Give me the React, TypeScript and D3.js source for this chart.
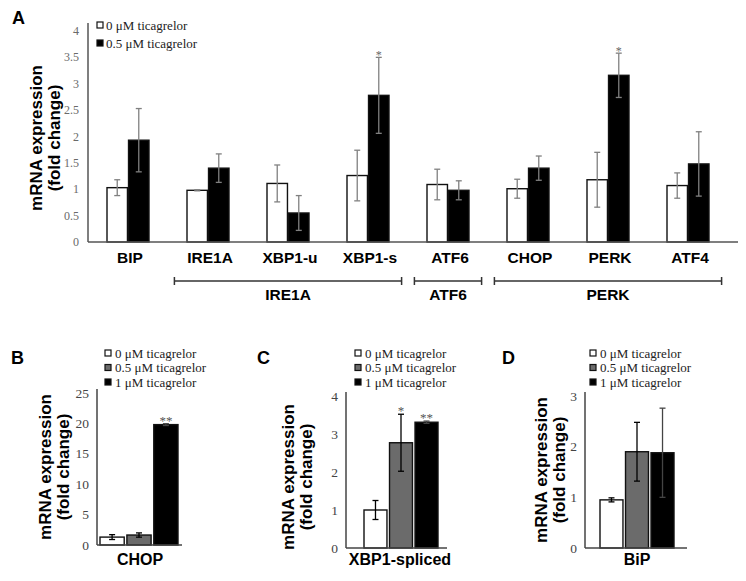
import React from 'react';
import * as d3 from 'd3';

// ---------- Panel A data ----------
const genesA = ['BIP', 'IRE1A', 'XBP1-u', 'XBP1-s', 'ATF6', 'CHOP', 'PERK', 'ATF4'];
const seriesA = ['0 μM ticagrelor', '0.5 μM ticagrelor'];
const ctrlA = [1.03, 0.98, 1.11, 1.26, 1.09, 1.01, 1.18, 1.07];
const ctrlErrA = [0.15, 0.01, 0.35, 0.48, 0.29, 0.18, 0.52, 0.24];
const ticaA = [1.93, 1.40, 0.55, 2.78, 0.98, 1.40, 3.16, 1.48];
const ticaErrA = [0.6, 0.27, 0.33, 0.72, 0.18, 0.23, 0.42, 0.61];
const sigA = ['', '', '', '*', '', '', '*', ''];
const yTicksA = [0, 0.5, 1, 1.5, 2, 2.5, 3, 3.5, 4];
const groupLabelsA = ['IRE1A', 'ATF6', 'PERK'];
const groupFromA = ['IRE1A', 'ATF6', 'CHOP'];
const groupToA = ['XBP1-s', 'ATF6', 'ATF4'];

// ---------- Panels B-D data ----------
const doses = ['0 μM ticagrelor', '0.5 μM ticagrelor', '1 μM ticagrelor'];
const chopVals = [1.3, 1.64, 19.8];
const chopErr = [0.4, 0.35, 0.15];
const chopSig = ['', '', '**'];
const chopTicks = [0, 5, 10, 15, 20, 25];
const xbpVals = [1.0, 2.77, 3.31];
const xbpErr = [0.25, 0.75, 0.03];
const xbpSig = ['', '*', '**'];
const xbpTicks = [0, 1, 2, 3, 4];
const bipVals = [0.95, 1.9, 1.88];
const bipErr = [0.04, 0.58, 0.88];
const bipSig = ['', '', ''];
const bipTicks = [0, 1, 2, 3];

const SERIF = "'Liberation Serif', 'Times New Roman', serif";
const SANS = "'Liberation Sans', Arial, Helvetica, sans-serif";
const doseFill = ['#ffffff', '#6b6b6b', '#000000'];

function YTitle({ x, y }: { x: number; y: number }) {
  return (
    <g transform={`translate(${x},${y}) rotate(-90)`}>
      <text x={0} y={0} textAnchor="middle" dominantBaseline="central" fontFamily={SANS} fontWeight="bold" fontSize={17} fill="#000">
        mRNA expression
      </text>
      <text x={0} y={18} textAnchor="middle" dominantBaseline="central" fontFamily={SANS} fontWeight="bold" fontSize={17} fill="#000">
        (fold change)
      </text>
    </g>
  );
}

function PanelA() {
  const y = d3.scaleLinear().domain([0, 4]).range([242, 31]);
  const x = d3.scaleBand<string>().domain(genesA).range([88, 728]);
  const bw = x.bandwidth();
  const sub = d3.scaleBand<string>().domain(seriesA).range([bw / 2 - 21, bw / 2 + 21]).paddingInner(0.05);
  const vals = [ctrlA, ticaA];
  const errs = [ctrlErrA, ticaErrA];
  const fills = ['#ffffff', '#000000'];
  const step = x.step();
  return (
    <g>
      <text x={12} y={24} fontFamily={SANS} fontWeight="bold" fontSize={18}>A</text>
      <YTitle x={36} y={138} />
      {yTicksA.map((t) => (
        <text key={t} x={79} y={y(t) + 4} textAnchor="end" fontFamily={SERIF} fontSize={12} fill="#6a6a6a">
          {d3.format('~g')(t)}
        </text>
      ))}
      {genesA.map((g, i) =>
        seriesA.map((s, j) => {
          const v = vals[j][i];
          return (
            <rect key={g + s} x={(x(g) as number) + (sub(s) as number)} y={y(v)} width={sub.bandwidth()} height={y(0) - y(v)}
              fill={fills[j]} stroke="#111" strokeWidth={1.4} />
          );
        })
      )}
      {genesA.map((g, i) =>
        seriesA.map((s, j) => {
          const v = vals[j][i];
          const e = errs[j][i];
          const cx = (x(g) as number) + (sub(s) as number) + sub.bandwidth() / 2;
          return (
            <g key={'e' + g + s} stroke="#808080" strokeWidth={1.3}>
              <line x1={cx} x2={cx} y1={y(v + e)} y2={y(v - e)} />
              <line x1={cx - 3} x2={cx + 3} y1={y(v + e)} y2={y(v + e)} />
              <line x1={cx - 3} x2={cx + 3} y1={y(v - e)} y2={y(v - e)} />
            </g>
          );
        })
      )}
      {genesA.map((g, i) =>
        sigA[i] ? (
          <text key={'s' + g} x={(x(g) as number) + (sub(seriesA[1]) as number) + sub.bandwidth() / 2} y={y(ticaA[i] + ticaErrA[i]) + 2}
            textAnchor="middle" fontFamily={SERIF} fontSize={12} fill="#666">
            {sigA[i]}
          </text>
        ) : null
      )}
      <line x1={88} x2={88} y1={y(0)} y2={y(4) - 8} stroke="#555" strokeWidth={1.5} />
      <line x1={88} x2={738} y1={y(0)} y2={y(0)} stroke="#555" strokeWidth={1.5} />
      {genesA.map((g) => (
        <text key={'l' + g} x={(x(g) as number) + bw / 2 + 2} y={263} textAnchor="middle" fontFamily={SANS} fontWeight="bold" fontSize={15.5}>
          {g}
        </text>
      ))}
      {groupLabelsA.map((lab, k) => {
        const x1 = (x(groupFromA[k]) as number) + bw / 2 - 0.42 * step;
        const x2 = (x(groupToA[k]) as number) + bw / 2 + 0.42 * step;
        return (
          <g key={'g' + lab}>
            <line x1={x1} x2={x2} y1={281} y2={281} stroke="#333" strokeWidth={1.5} />
            <line x1={x1} x2={x1} y1={277} y2={285} stroke="#333" strokeWidth={1.5} />
            <line x1={x2} x2={x2} y1={277} y2={285} stroke="#333" strokeWidth={1.5} />
            <text x={(x1 + x2) / 2} y={300} textAnchor="middle" fontFamily={SANS} fontWeight="bold" fontSize={15.5}>{lab}</text>
          </g>
        );
      })}
      {seriesA.map((s, j) => (
        <g key={'lg' + s}>
          <rect x={97} y={22 + j * 18} width={6} height={6} fill={fills[j]} stroke="#111" strokeWidth={1.2} />
          <text x={106} y={29.5 + j * 18} fontFamily={SERIF} fontSize={13} fill="#222">{s}</text>
        </g>
      ))}
    </g>
  );
}

type SmallProps = {
  letter: string; letterX: number; titleX: number; titleY: number;
  axisX: number; axisEnd: number; barL: number; barR: number; y0: number; yTop: number;
  ticks: number[]; vals: number[]; errs: number[]; sig: string[]; label: string; labelX: number; legendX: number;
};

function SmallPanel(p: SmallProps) {
  const max = p.ticks[p.ticks.length - 1];
  const y = d3.scaleLinear().domain([0, max]).range([p.y0, p.yTop]);
  const x = d3.scaleBand<string>().domain(doses).range([p.barL, p.barR]).paddingInner(0.1);
  return (
    <g>
      <text x={p.letterX} y={364} fontFamily={SANS} fontWeight="bold" fontSize={18}>{p.letter}</text>
      <YTitle x={p.titleX} y={p.titleY} />
      {doses.map((d, i) => (
        <g key={'lg' + d}>
          <rect x={p.legendX - 10} y={350 + i * 14.5} width={6} height={6} fill={doseFill[i]} stroke="#111" strokeWidth={1.2} />
          <text x={p.legendX} y={357.5 + i * 14.5} fontFamily={SERIF} fontSize={13} fill="#222">{d}</text>
        </g>
      ))}
      {p.ticks.map((t) => (
        <text key={t} x={p.axisX - 8} y={y(t) + 4.5} textAnchor="end" fontFamily={SERIF} fontSize={13.5} fill="#444">{t}</text>
      ))}
      {doses.map((d, i) => (
        <rect key={'b' + d} x={x(d)} y={y(p.vals[i])} width={x.bandwidth()} height={y(0) - y(p.vals[i])}
          fill={doseFill[i]} stroke="#111" strokeWidth={1.4} />
      ))}
      {doses.map((d, i) => {
        const cx = (x(d) as number) + x.bandwidth() / 2;
        const hi = y(p.vals[i] + p.errs[i]);
        const lo = y(p.vals[i] - p.errs[i]);
        return (
          <g key={'e' + d} stroke={i === 2 ? '#444' : '#000'} strokeWidth={1.3}>
            <line x1={cx} x2={cx} y1={hi} y2={lo} />
            <line x1={cx - 3} x2={cx + 3} y1={hi} y2={hi} />
            <line x1={cx - 3} x2={cx + 3} y1={lo} y2={lo} />
          </g>
        );
      })}
      {doses.map((d, i) =>
        p.sig[i] ? (
          <text key={'s' + d} x={(x(d) as number) + x.bandwidth() / 2} y={y(p.vals[i] + p.errs[i]) + 1} textAnchor="middle"
            fontFamily={SERIF} fontSize={13} fill="#555">{p.sig[i]}</text>
        ) : null
      )}
      <line x1={p.axisX} x2={p.axisX} y1={y(0)} y2={y(max) - 4} stroke="#444" strokeWidth={1.5} />
      <line x1={p.axisX} x2={p.axisEnd} y1={y(0)} y2={y(0)} stroke="#444" strokeWidth={1.5} />
      <text x={p.labelX} y={565} textAnchor="middle" fontFamily={SANS} fontWeight="bold" fontSize={16}>{p.label}</text>
    </g>
  );
}

export default function App() {
  return (
    <div style={{ position: 'absolute', left: 0, top: 0 }}>
      <svg width={746} height={581} viewBox="0 0 746 581" style={{ display: 'block', background: '#fff' }}>
        <rect x={0} y={0} width={746} height={581} fill="#fff" />
        <PanelA />
        <SmallPanel letter="B" letterX={11} titleX={45} titleY={467} axisX={97} axisEnd={182} barL={100} barR={178}
          y0={545} yTop={393} ticks={chopTicks} vals={chopVals} errs={chopErr} sig={chopSig} label="CHOP" labelX={140} legendX={115} />
        <SmallPanel letter="C" letterX={257} titleX={288} titleY={477} axisX={346} axisEnd={447} barL={364} barR={438}
          y0={548} yTop={396} ticks={xbpTicks} vals={xbpVals} errs={xbpErr} sig={xbpSig} label="XBP1-spliced" labelX={400} legendX={365} />
        <SmallPanel letter="D" letterX={502} titleX={541} titleY={470} axisX={585} axisEnd={687} barL={600} barR={674}
          y0={548} yTop={396} ticks={bipTicks} vals={bipVals} errs={bipErr} sig={bipSig} label="BiP" labelX={637} legendX={600} />
      </svg>
    </div>
  );
}
